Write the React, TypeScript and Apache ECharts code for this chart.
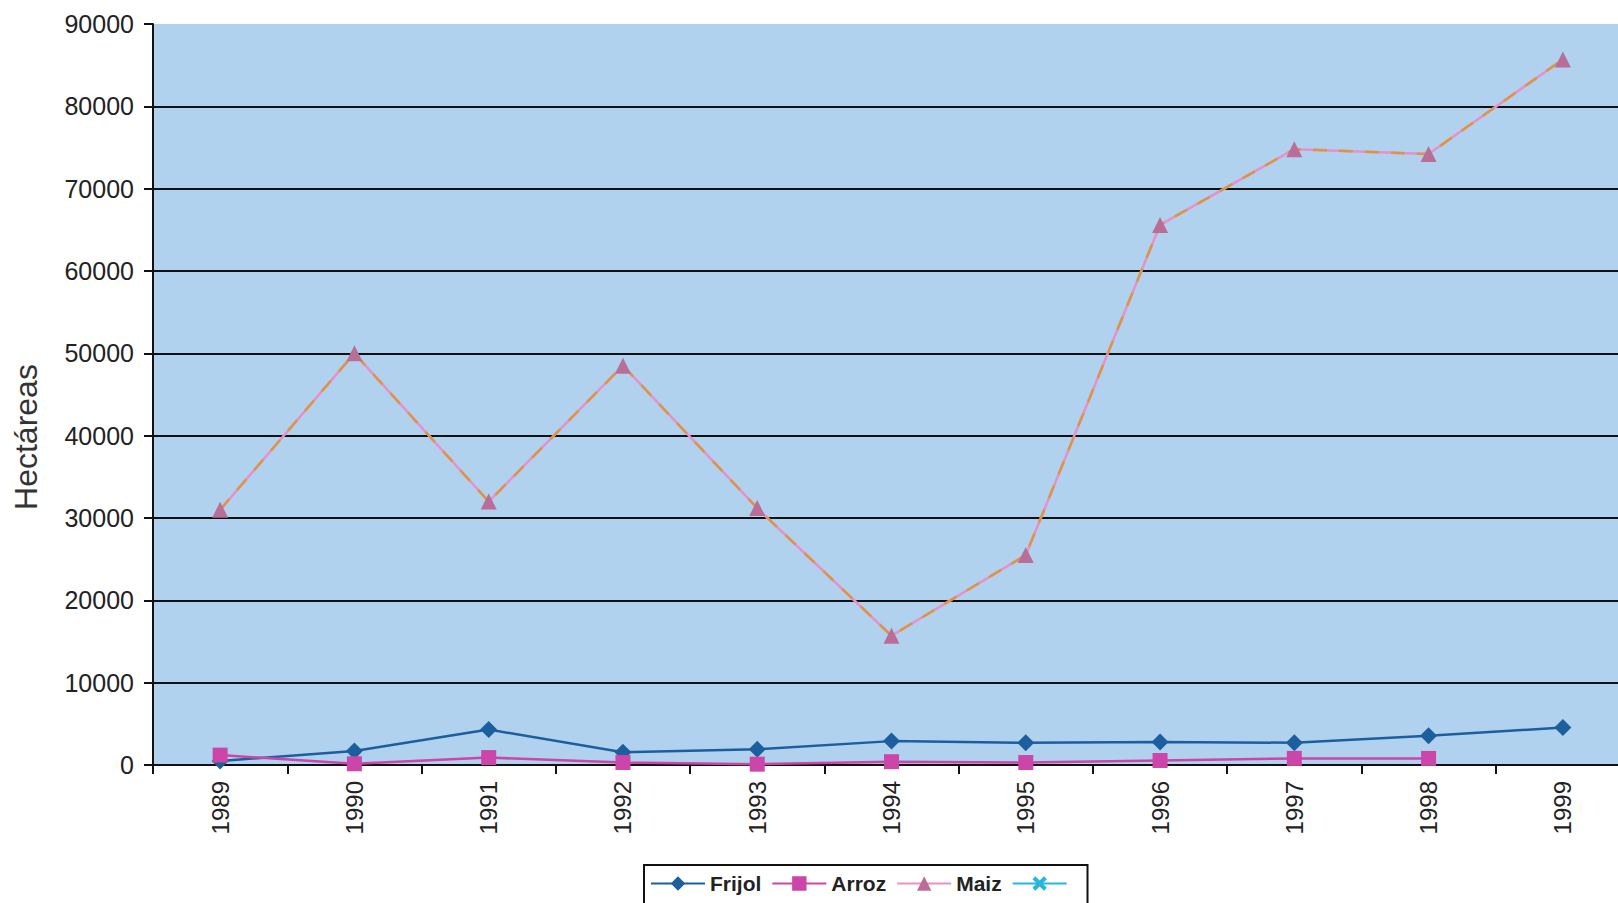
import React, { useEffect, useRef } from "react";
import * as echarts from "echarts";

const years = ["1989", "1990", "1991", "1992", "1993", "1994", "1995", "1996", "1997", "1998", "1999"];
const frijol = [500, 1700, 4300, 1550, 1900, 2900, 2700, 2800, 2700, 3550, 4550];
const arroz = [1200, 150, 900, 300, 100, 400, 300, 550, 800, 800, null];
const maiz = [31000, 50000, 32000, 48500, 31200, 15700, 25500, 65600, 74800, 74200, 85700];
const extra: (number | null)[] = [];

const FONT = "'Liberation Sans', Arial, sans-serif";
const X_SYMBOL = "path://M0,2 L2,0 L5,3 L8,0 L10,2 L7,5 L10,8 L8,10 L5,7 L2,10 L0,8 L3,5 Z";

export default function App() {
  const ref = useRef<HTMLDivElement>(null);
  useEffect(() => {
    const chart = echarts.init(ref.current!, null, { renderer: "svg" });
    chart.setOption({
      animation: false,
      backgroundColor: "#ffffff",
      grid: {
        left: 153,
        top: 24,
        bottom: 138,
        right: 10,
        show: true,
        backgroundColor: "#b1d2ee",
        borderWidth: 0,
      },
      graphic: [
        {
          type: "text",
          x: 26,
          y: 437,
          rotation: Math.PI / 2,
          style: {
            text: "Hectáreas",
            fontFamily: FONT,
            fontSize: 32,
            fill: "#333",
            align: "center",
            verticalAlign: "middle",
          },
        },
      ],
      legend: {
        left: 644,
        top: 865,
        padding: [8, 10, 12, 6],
        itemGap: 10,
        itemWidth: 54,
        itemHeight: 18,
        backgroundColor: "#ffffff",
        borderColor: "#111",
        borderWidth: 2,
        borderRadius: 0,
        textStyle: { fontFamily: FONT, fontSize: 21, fontWeight: "bold", color: "#222" },
        data: ["Frijol", "Arroz", "Maiz", " "],
      },
      xAxis: {
        type: "category",
        data: years,
        boundaryGap: true,
        axisLine: { lineStyle: { color: "#111", width: 2 } },
        axisTick: { show: true, length: 9, lineStyle: { color: "#111", width: 2 } },
        axisLabel: { rotate: 90, margin: 16, fontFamily: FONT, fontSize: 24, color: "#222" },
      },
      yAxis: {
        type: "value",
        min: 0,
        max: 90000,
        interval: 10000,
        axisLine: { show: true, lineStyle: { color: "#111", width: 2 } },
        axisTick: { show: true, length: 9, lineStyle: { color: "#111", width: 2 } },
        axisLabel: {
          margin: 19,
          fontFamily: FONT,
          fontSize: 25,
          color: "#222",
          formatter: (v: number) => String(v),
        },
        splitLine: {
          show: true,
          lineStyle: {
            color: ["#111", "#111", "#111", "#111", "#111", "#111", "#111", "#111", "#111", "rgba(0,0,0,0)"],
            width: 2,
          },
        },
      },
      series: [
        {
          name: "Frijol",
          type: "line",
          data: frijol,
          symbol: "diamond",
          symbolSize: 17,
          color: "#1d5e9e",
          lineStyle: { width: 2.5, color: "#1d5e9e" },
          itemStyle: { color: "#1d5e9e" },
          z: 3,
        },
        {
          name: "Arroz",
          type: "line",
          data: arroz,
          symbol: "rect",
          symbolSize: 15,
          color: "#cc45a8",
          lineStyle: { width: 2.5, color: "#cc45a8" },
          itemStyle: { color: "#cc45a8" },
          z: 4,
        },
        {
          name: "Maiz",
          type: "line",
          data: maiz,
          symbol: "triangle",
          symbolSize: 16,
          color: "#e890c8",
          lineStyle: { width: 2.5, color: "#e890c8" },
          itemStyle: { color: "#b86e96" },
          z: 2,
        },
        {
          name: "Maiz-dash",
          type: "line",
          data: maiz,
          symbol: "none",
          silent: true,
          lineStyle: { width: 2.5, color: "#df9444", type: [14, 12] },
          z: 2,
        },
        {
          name: " ",
          type: "line",
          data: extra,
          symbol: X_SYMBOL,
          symbolSize: 16,
          color: "#26b6e0",
          lineStyle: { width: 2.5, color: "#26b6e0" },
          itemStyle: { color: "#26b6e0" },
        },
      ],
    });
    return () => chart.dispose();
  }, []);
  return (
    <div
      ref={ref}
      style={{ position: "fixed", left: 0, top: 0, width: 1640, height: 903 }}
    />
  );
}
